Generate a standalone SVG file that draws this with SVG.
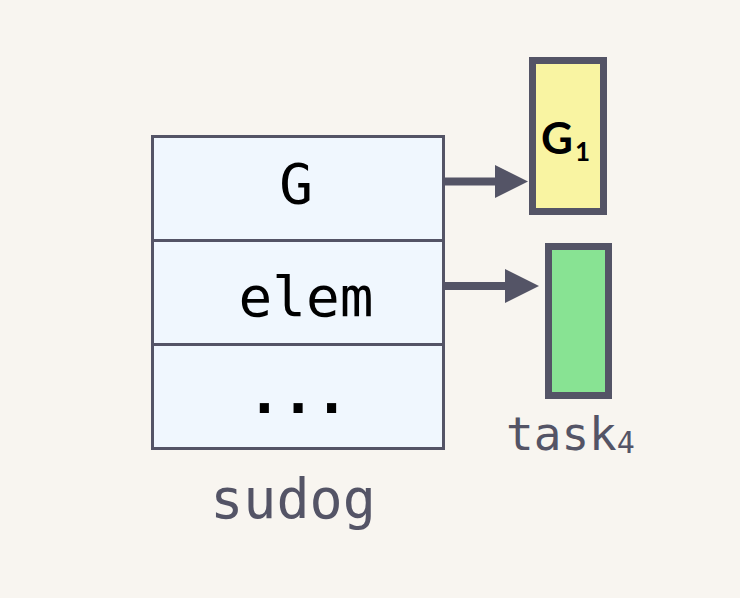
<svg xmlns="http://www.w3.org/2000/svg" width="740" height="598" viewBox="0 0 740 598">
<defs>
<style>
.mono{font-family:"DejaVu Sans Mono","Liberation Mono",monospace;}
.cell{fill:#f0f7fe;stroke:#545466;stroke-width:3;}
.lbl{fill:#000;font-size:56px;text-anchor:middle;}
.cap{fill:#545466;}
.wire{stroke:#545466;stroke-width:8;fill:none;}
.head{fill:#545466;}
</style>
</defs>
<rect width="740" height="598" fill="#f8f5f0"/>
<g id="sudog">
<rect class="cell" x="152.5" y="136.5" width="291" height="104"/>
<rect class="cell" x="152.5" y="240.5" width="291" height="104"/>
<rect class="cell" x="152.5" y="344.5" width="291" height="104"/>
<text class="mono lbl" x="296" y="203">G</text>
<text class="mono lbl" x="306" y="316">elem</text>
<text class="mono lbl" x="298" y="413" font-weight="700">...</text>
<text class="mono cap" x="293" y="518" font-size="55" text-anchor="middle">sudog</text>
</g>
<g id="g1">
<rect x="532.5" y="60.5" width="71" height="151" fill="#f9f4a2" stroke="#545466" stroke-width="7"/>
<text x="541" y="154" font-family="Lato,'Open Sans',sans-serif" font-weight="700" font-size="44" fill="#000">G<tspan font-size="26" dy="7" dx="2">1</tspan></text>
</g>
<g id="task4">
<rect x="548.5" y="246.5" width="60" height="149" fill="#88e393" stroke="#545466" stroke-width="7"/>
<text class="mono cap" x="506" y="450" font-size="46">task<tspan font-size="30" dy="3">4</tspan></text>
</g>
<g id="connectors">
<line class="wire" x1="445" y1="181.5" x2="497" y2="181.5"/>
<polygon class="head" points="495,165 528,181.5 495,198"/>
<line class="wire" x1="445" y1="286" x2="507" y2="286"/>
<polygon class="head" points="505,269 539,286 505,303"/>
</g>
</svg>
